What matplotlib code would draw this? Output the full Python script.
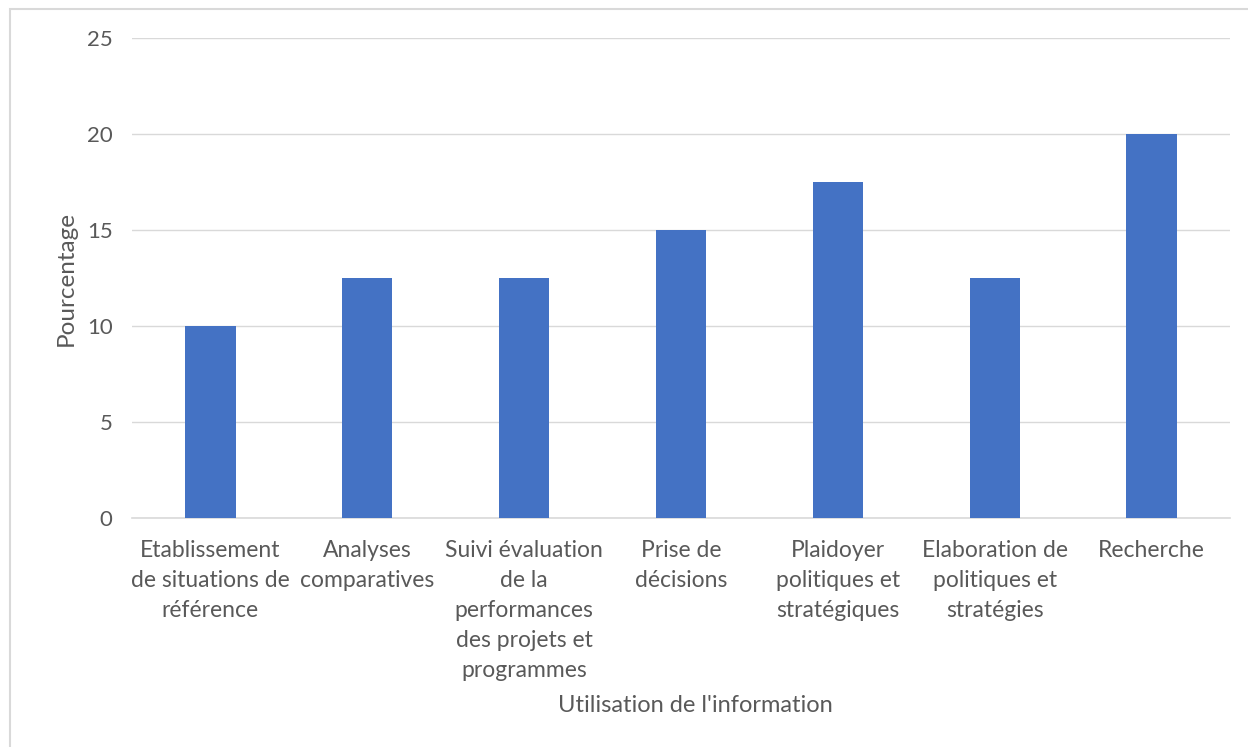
import matplotlib.pyplot as plt
from matplotlib.patches import Rectangle

plt.rcParams["font.family"] = ["Lato", "DejaVu Sans"]

# Données
categories = [
    "Etablissement\nde situations de\nréférence",
    "Analyses\ncomparatives",
    "Suivi évaluation\nde la\nperformances\ndes projets et\nprogrammes",
    "Prise de\ndécisions",
    "Plaidoyer\npolitiques et\nstratégiques",
    "Elaboration de\npolitiques et\nstratégies",
    "Recherche",
]
pourcentages = [10, 12.5, 12.5, 15, 17.5, 12.5, 20]
yticks = [0, 5, 10, 15, 20, 25]

GRAY = "#595959"
BLUE = "#4472C4"

fig = plt.figure(figsize=(12.48, 7.47), dpi=100)
ax = fig.add_axes([132 / 1248, 1 - 518 / 747, (1230 - 132) / 1248, (518 - 38) / 747])

x = range(len(categories))
ax.bar(x, pourcentages, width=0.32, color=BLUE, zorder=3)

ax.set_xlim(-0.5, len(categories) - 0.5)
ax.set_ylim(0, 25)
ax.set_yticks(yticks)
ax.set_yticklabels([str(v) for v in yticks])
ax.set_xticks(list(x))
ax.set_xticklabels(categories, linespacing=1.52)

ax.grid(axis="y", color="#D9D9D9", linewidth=1, zorder=0)
for side in ["top", "right", "left"]:
    ax.spines[side].set_visible(False)
ax.spines["bottom"].set_color("#D9D9D9")
ax.spines["bottom"].set_linewidth(1.2)
ax.tick_params(axis="x", length=0, labelsize=16.5, colors=GRAY, pad=16)
ax.tick_params(axis="y", length=0, labelsize=16, colors=GRAY, pad=14)

ax.set_ylabel("Pourcentage", fontsize=17.5, color=GRAY, labelpad=7)
fig.text(695 / 1248, 1 - 706 / 747, "Utilisation de l'information",
         fontsize=17, color=GRAY, ha="center", va="center")

# bordure de la zone du graphique
fig.patches.append(Rectangle((10 / 1248, -0.05), 1.2, 1 - 9 / 747 + 0.05,
                             transform=fig.transFigure, fill=False,
                             edgecolor="#D9D9D9", linewidth=1.5))

plt.savefig("out.png", dpi=100)
plt.close()
